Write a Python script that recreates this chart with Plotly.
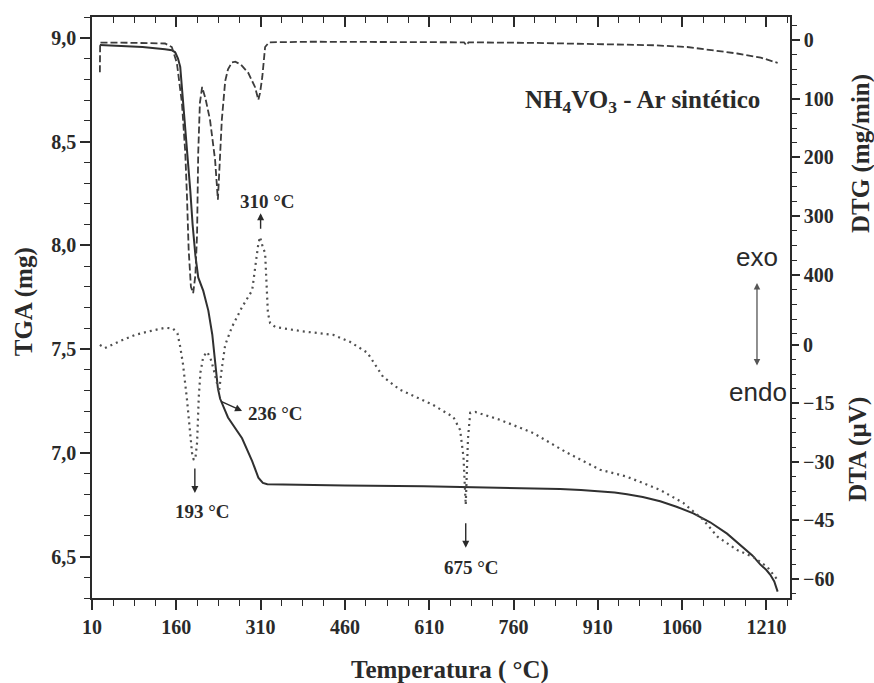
import plotly.graph_objects as go

# ---------------- data ----------------
tga_temp = [24, 60, 100, 140, 152, 158, 163, 167, 170, 176, 180, 185, 189, 194, 199, 208, 217, 224,
            229, 234, 238, 252, 277, 295, 306, 314, 322, 380, 460, 600, 750, 843, 880, 910, 940,
            962, 990, 1021, 1050, 1080, 1110, 1140, 1169, 1185, 1199, 1210, 1217, 1224, 1230]
tga_mass = [8.965, 8.96, 8.955, 8.945, 8.94, 8.93, 8.90, 8.86, 8.76, 8.60, 8.44, 8.26, 8.10, 7.95,
            7.845, 7.78, 7.685, 7.57, 7.44, 7.31, 7.26, 7.17, 7.07, 6.96, 6.88, 6.855, 6.848, 6.845,
            6.842, 6.838, 6.832, 6.825, 6.82, 6.815, 6.808, 6.80, 6.787, 6.766, 6.74, 6.708, 6.665,
            6.61, 6.545, 6.505, 6.462, 6.435, 6.412, 6.38, 6.331]

dtg_temp = [24, 24.5, 60, 100, 140, 152, 161, 170, 176, 179, 182, 186, 190, 194, 197, 199, 202, 206,
            212, 220, 229, 234, 238, 241, 247, 252, 259, 265, 275, 288, 300, 306, 309, 313, 318, 325,
            400, 500, 594, 665, 672, 676, 680, 800, 950, 1010, 1069, 1110, 1158, 1200, 1230]
dtg_rate = [55, 4.5, 4.5, 5, 6, 12, 39, 107, 192, 267, 357, 420, 431, 400, 329, 192, 107, 80, 100,
            136, 204, 272, 204, 136, 70, 50, 38, 37, 42, 56, 80, 102, 90, 63, 12, 4, 3, 3, 3, 4, 4,
            9, 4, 5, 7, 9, 12, 17, 23, 30, 39]

dta_temp = [24, 33, 60, 87, 115, 140, 154, 162, 167, 172, 179, 184, 188, 191, 194, 197, 200, 203,
            208, 215, 221, 226, 231, 236, 241, 247, 259, 277, 295, 300, 306, 309, 314, 318, 321,
            323, 327, 336, 384, 439, 469, 500, 528, 558, 617, 653, 665, 671, 675, 679, 683, 692,
            736, 795, 856, 914, 962, 1021, 1062, 1098, 1123, 1158, 1187, 1212, 1230]
dta_signal = [0, -0.8, 1, 2.6, 3.6, 4.4, 4.2, 3, -0.5, -5, -14, -22, -27.7, -29.5, -29, -25, -13.3,
              -7, -3, -1.8, -3.5, -6, -9, -12, -6, 0, 4.6, 9.7, 14, 20, 26, 27.7, 25, 23.6, 15, 8.2,
              5.6, 4.6, 3.5, 2.6, 0.8, -2, -8.2, -11.5, -15.4, -18.5, -21.8, -28.7, -41, -24, -17.4,
              -17.2, -19.2, -22.6, -27.7, -32, -33.8, -37.2, -40.5, -44.9, -49.2, -52.6, -54.4, -57,
              -60.3]

x_ticks = [10, 160, 310, 460, 610, 760, 910, 1060, 1210]
tga_ticks = [6.5, 7.0, 7.5, 8.0, 8.5, 9.0]
tga_ticktext = ["6,5", "7,0", "7,5", "8,0", "8,5", "9,0"]
dtg_ticks = [0, 100, 200, 300, 400]
dtg_minor = [-25, 25, 50, 75, 125, 150, 175, 225, 250, 275, 325, 350, 375, 425, 450, 475, 500]
dta_ticks = [0, -15, -30, -45, -60]
dta_minor = [-3.75, -7.5, -11.25, -18.75, -22.5, -26.25, -33.75, -37.5, -41.25,
             -48.75, -52.5, -56.25, -63.75]

# ---------------- figure ----------------
SERIF = "Liberation Serif"
INK = "#2a2a2a"
tickfont = dict(family=SERIF, size=20, color=INK, weight="bold")

fig = go.Figure()
fig.add_trace(go.Scatter(x=tga_temp, y=tga_mass, mode="lines", yaxis="y",
                         line=dict(color="#303030", width=2), showlegend=False))
fig.add_trace(go.Scatter(x=dtg_temp, y=dtg_rate, mode="lines", yaxis="y2",
                         line=dict(color="#3c3c3c", width=1.8, dash="7px,3px"), showlegend=False))
fig.add_trace(go.Scatter(x=dta_temp, y=dta_signal, mode="lines", yaxis="y3",
                         line=dict(color="#505050", width=2.2, dash="2px,4px"), showlegend=False))
# invisible helper trace for the top axis
fig.add_trace(go.Scatter(x=[x_ticks[0]], y=[tga_ticks[0]], xaxis="x2", yaxis="y",
                         mode="markers", marker=dict(opacity=0), showlegend=False, hoverinfo="skip"))

axis_common = dict(showgrid=False, zeroline=False, showline=True, linecolor=INK, linewidth=1.6,
                   tickcolor=INK, tickwidth=1.6)

fig.update_layout(
    width=874, height=683,
    margin=dict(l=92, r=84, t=17, b=85),
    paper_bgcolor="white", plot_bgcolor="white",
    xaxis=dict(range=[10, 1252], tickmode="array", tickvals=x_ticks, ticks="outside", ticklen=10,
               tickfont=tickfont,
               minor=dict(tick0=10, dtick=37.5, ticks="outside", ticklen=6, tickcolor=INK, tickwidth=1.4),
               **axis_common),
    xaxis2=dict(range=[10, 1252], overlaying="x", side="top", anchor="y", tickmode="array",
                tickvals=x_ticks, ticks="inside", ticklen=10, showticklabels=False,
                minor=dict(tick0=10, dtick=37.5, ticks="inside", ticklen=6, tickcolor=INK, tickwidth=1.4),
                **axis_common),
    yaxis=dict(range=[6.3, 9.1], tickmode="array", tickvals=tga_ticks, ticktext=tga_ticktext,
               ticks="outside", ticklen=10, tickfont=tickfont,
               minor=dict(tick0=6.5, dtick=0.1, ticks="outside", ticklen=6, tickcolor=INK, tickwidth=1.4),
               **axis_common),
    yaxis2=dict(range=[949.8, -39.1], overlaying="y", side="right", anchor="x", tickmode="array",
                tickvals=dtg_ticks, ticks="outside", ticklen=8, tickfont=tickfont,
                minor=dict(tickmode="array", tickvals=dtg_minor, ticks="outside", ticklen=5,
                           tickcolor=INK, tickwidth=1.4),
                **axis_common),
    yaxis3=dict(range=[-64.9, 84.1], overlaying="y", side="right", anchor="x", tickmode="array",
                tickvals=dta_ticks, ticks="outside", ticklen=8, tickfont=tickfont,
                minor=dict(tickmode="array", tickvals=dta_minor, ticks="outside", ticklen=5,
                           tickcolor=INK, tickwidth=1.4),
                showgrid=False, zeroline=False, showline=False, tickcolor=INK, tickwidth=1.6),
)

title_font = dict(family=SERIF, size=25, color=INK, weight="bold")
lab_font = dict(family=SERIF, size=19, color=INK, weight="bold")
sans_font = dict(family="Liberation Sans", size=26, color="#2a2a2a")
C = dict(xanchor="center", yanchor="middle")

annotations = [
    dict(text="Temperatura ( °C)", x=0.513, y=-0.124, xref="paper", yref="paper",
         showarrow=False, font=title_font, **C),
    dict(text="TGA (mg)", x=-0.0974, y=0.509, xref="paper", yref="paper", textangle=-90,
         showarrow=False, font=title_font, **C),
    dict(text="DTG (mg/min)", x=1.1017, y=0.766, xref="paper", yref="paper", textangle=-90,
         showarrow=False, font=title_font, **C),
    dict(text="DTA (µV)", x=1.097, y=0.2565, xref="paper", yref="paper", textangle=-90,
         showarrow=False, font=title_font, **C),
    dict(text="NH<sub>4</sub>VO<sub>3</sub> - Ar sintético", x=0.789, y=0.854, xref="paper",
         yref="paper", showarrow=False, font=title_font, **C),
    dict(text="exo", x=0.9527, y=0.587, xref="paper", yref="paper", showarrow=False,
         font=sans_font, **C),
    dict(text="endo", x=0.954, y=0.3546, xref="paper", yref="paper", showarrow=False,
         font=sans_font, **C),
    dict(text="", x=0.9527, y=(598 - 283) / 581, xref="paper", yref="paper", showarrow=True,
         ax=0, ay=84, arrowhead=2, startarrowhead=2, arrowside="end+start", arrowsize=1,
         arrowwidth=1.3, arrowcolor="#555"),
    # peak labels
    dict(text="193 °C", x=207, y=-42.8, xref="x", yref="y3", showarrow=False, font=lab_font, **C),
    dict(text="", x=193, y=-38, xref="x", yref="y3", showarrow=True, ax=0, ay=-26,
         arrowhead=2, arrowsize=1, arrowwidth=1.4, arrowcolor=INK),
    dict(text="310 °C", x=323, y=36.9, xref="x", yref="y3", showarrow=False, font=lab_font, **C),
    dict(text="", x=310, y=33.8, xref="x", yref="y3", showarrow=True, ax=0, ay=17,
         arrowhead=2, arrowsize=1, arrowwidth=1.4, arrowcolor=INK),
    dict(text="236 °C", x=337, y=7.187, xref="x", yref="y", showarrow=False, font=lab_font, **C),
    dict(text="", x=277, y=7.2015, xref="x", yref="y", showarrow=True, ax=-22, ay=-10,
         arrowhead=2, arrowsize=1, arrowwidth=1.4, arrowcolor=INK),
    dict(text="675 °C", x=686, y=-57, xref="x", yref="y3", showarrow=False, font=lab_font, **C),
    dict(text="", x=675, y=-52, xref="x", yref="y3", showarrow=True, ax=0, ay=-26,
         arrowhead=2, arrowsize=1, arrowwidth=1.4, arrowcolor=INK),
]
fig.update_layout(annotations=annotations)

fig.write_html("out.html")
